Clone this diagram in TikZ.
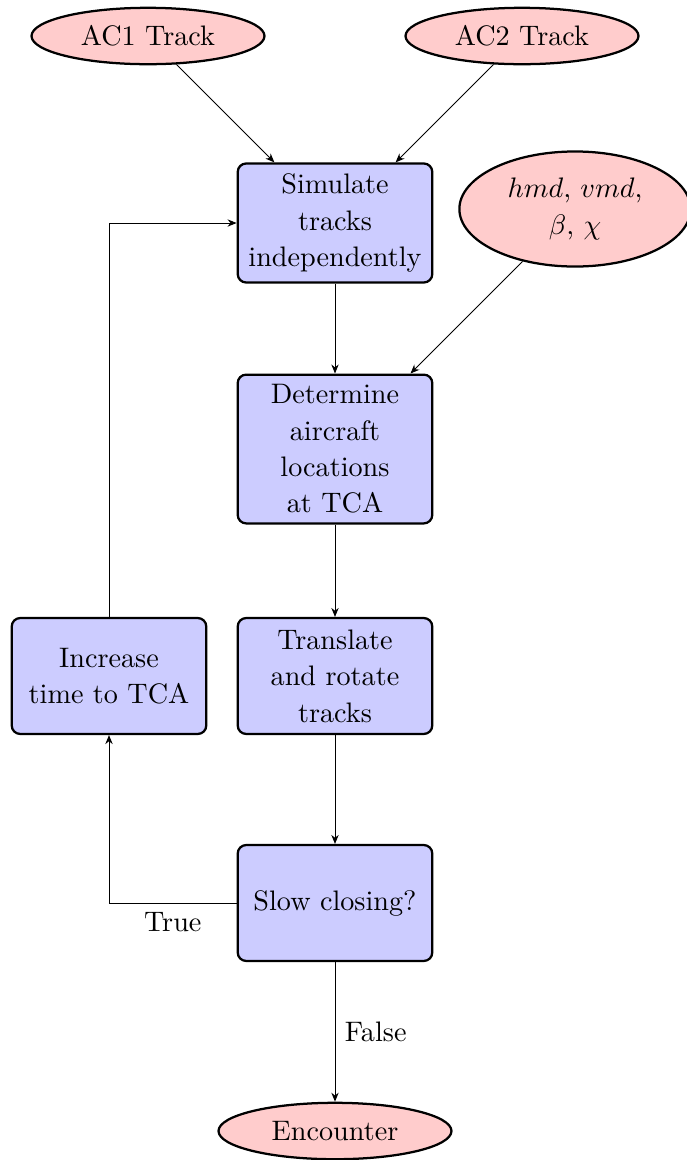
\documentclass[tikz,border=0pt]{standalone}
\usetikzlibrary{shapes.geometric,arrows.meta}
\begin{document}
\begin{tikzpicture}[x=0.3546pt,y=-0.3546pt,
  box/.style={draw,thick,rounded corners=3pt,fill=blue!20,text width=62pt,align=center,inner sep=3.5pt,font=\fontsize{10}{12.9}\selectfont},
  term/.style={draw,thick,ellipse,fill=red!20,inner sep=0pt,minimum width=82.6pt,minimum height=20pt,align=center,font=\fontsize{10}{12.9}\selectfont},
  conn/.style={-{Stealth[length=3.2pt,width=2.6pt]},line width=0.35pt}]
\useasboundingbox (0,0) rectangle (686,1160);
\node[term] (ac1) at (148,36) {AC1 Track};
\node[term] (ac2) at (522,36) {AC2 Track};
\node[term,minimum width=82pt,minimum height=40.8pt] (par) at (575,209) {$hmd$, $vmd$,\\ $\beta$, $\chi$};
\node[box,minimum height=42.2pt] (sim) at (335,223) {Simulate\\ tracks\\ independently};
\node[box,minimum height=52.1pt] (det) at (335,449) {Determine\\ aircraft\\ locations\\ at TCA};
\node[box,minimum height=41.1pt] (tra) at (335,676) {Translate\\ and rotate\\ tracks};
\node[box,minimum height=41.1pt] (inc) at (109,676) {Increase\\ time to TCA};
\node[box,minimum height=41.1pt] (slo) at (335,903) {Slow closing?};
\node[term] (enc) at (335,1131) {Encounter};
\draw[conn] (ac1) -- (sim);
\draw[conn] (ac2) -- (sim);
\draw[conn] (par) -- (det);
\draw[conn] (sim) -- (det);
\draw[conn] (det) -- (tra);
\draw[conn] (tra) -- (slo);
\draw[conn] (slo.west) -| node[pos=0.25,below] {True} (inc.south);
\draw[conn] (inc.north) |- (sim.west);
\draw[conn] (slo) -- node[midway,right] {False} (enc);
\end{tikzpicture}
\end{document}
